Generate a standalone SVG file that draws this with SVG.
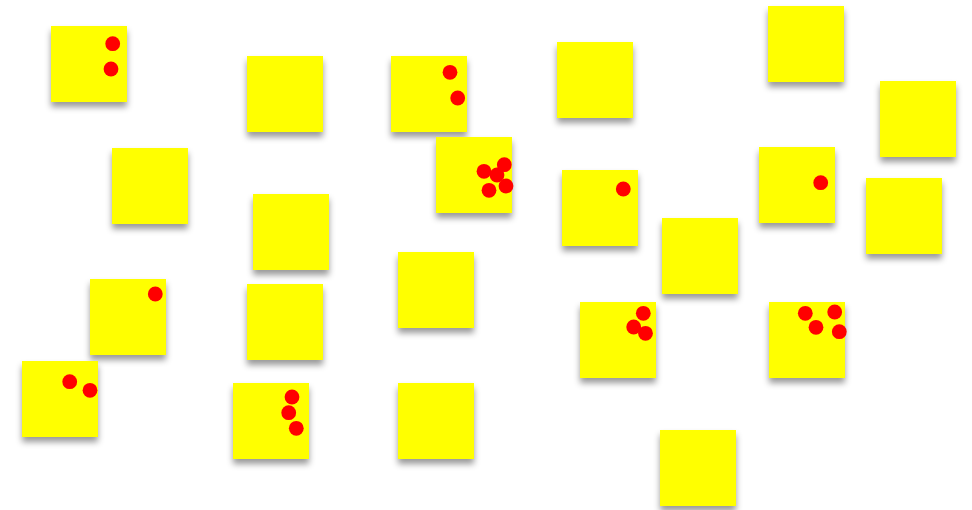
<svg xmlns="http://www.w3.org/2000/svg" width="972" height="510" viewBox="0 0 972 510">
<defs>
<filter id="sh" x="-20%" y="-20%" width="140%" height="150%">
<feDropShadow dx="0" dy="5" stdDeviation="3" flood-color="#000" flood-opacity="0.4"/>
</filter>
</defs>
<style>
.n{fill:#ffff00;filter:url(#sh)}
.d{fill:#ff0000}
</style>
<rect width="972" height="510" fill="#fff"/>
<g id="n1"><rect class="n" x="51" y="26" width="76" height="76"/><circle class="d" cx="112.7" cy="43.7" r="7.4"/><circle class="d" cx="111" cy="69" r="7.4"/></g>
<g id="n2"><rect class="n" x="247" y="56" width="76" height="76"/></g>
<g id="n3"><rect class="n" x="391" y="56" width="76" height="76"/><circle class="d" cx="450" cy="72.3" r="7.4"/><circle class="d" cx="457.7" cy="98" r="7.4"/></g>
<g id="n4"><rect class="n" x="557" y="42" width="76" height="76"/></g>
<g id="n5"><rect class="n" x="768" y="6" width="76" height="76"/></g>
<g id="n6"><rect class="n" x="880" y="81" width="76" height="76"/></g>
<g id="n7"><rect class="n" x="112" y="148" width="76" height="76"/></g>
<g id="n8"><rect class="n" x="253" y="194" width="76" height="76"/></g>
<g id="n9"><rect class="n" x="436" y="137" width="76" height="76"/><circle class="d" cx="484" cy="171.3" r="7.4"/><circle class="d" cx="504.3" cy="164.7" r="7.4"/><circle class="d" cx="497" cy="175" r="7.4"/><circle class="d" cx="489" cy="190.3" r="7.4"/><circle class="d" cx="506" cy="186" r="7.4"/></g>
<g id="n10"><rect class="n" x="562" y="170" width="76" height="76"/><circle class="d" cx="623.3" cy="189" r="7.4"/></g>
<g id="n11"><rect class="n" x="759" y="147" width="76" height="76"/><circle class="d" cx="820.7" cy="182.7" r="7.4"/></g>
<g id="n12"><rect class="n" x="866" y="178" width="76" height="76"/></g>
<g id="n13"><rect class="n" x="662" y="218" width="76" height="76"/></g>
<g id="n14"><rect class="n" x="90" y="279" width="76" height="76"/><circle class="d" cx="155.3" cy="294" r="7.4"/></g>
<g id="n15"><rect class="n" x="247" y="284" width="76" height="76"/></g>
<g id="n16"><rect class="n" x="398" y="252" width="76" height="76"/></g>
<g id="n17"><rect class="n" x="580" y="302" width="76" height="76"/><circle class="d" cx="643.3" cy="313.3" r="7.4"/><circle class="d" cx="633.7" cy="327" r="7.4"/><circle class="d" cx="645.5" cy="333.3" r="7.4"/></g>
<g id="n18"><rect class="n" x="769" y="302" width="76" height="76"/><circle class="d" cx="805.3" cy="313.3" r="7.4"/><circle class="d" cx="834.7" cy="312" r="7.4"/><circle class="d" cx="816" cy="327.3" r="7.4"/><circle class="d" cx="839.3" cy="331.7" r="7.4"/></g>
<g id="n19"><rect class="n" x="22" y="361" width="76" height="76"/><circle class="d" cx="69.7" cy="381.7" r="7.4"/><circle class="d" cx="90" cy="390.3" r="7.4"/></g>
<g id="n20"><rect class="n" x="233" y="383" width="76" height="76"/><circle class="d" cx="292" cy="397" r="7.4"/><circle class="d" cx="288.7" cy="412.7" r="7.4"/><circle class="d" cx="296.3" cy="428.3" r="7.4"/></g>
<g id="n21"><rect class="n" x="398" y="383" width="76" height="76"/></g>
<g id="n22"><rect class="n" x="660" y="430" width="76" height="76"/></g>
<g id="connectors"></g>
</svg>
